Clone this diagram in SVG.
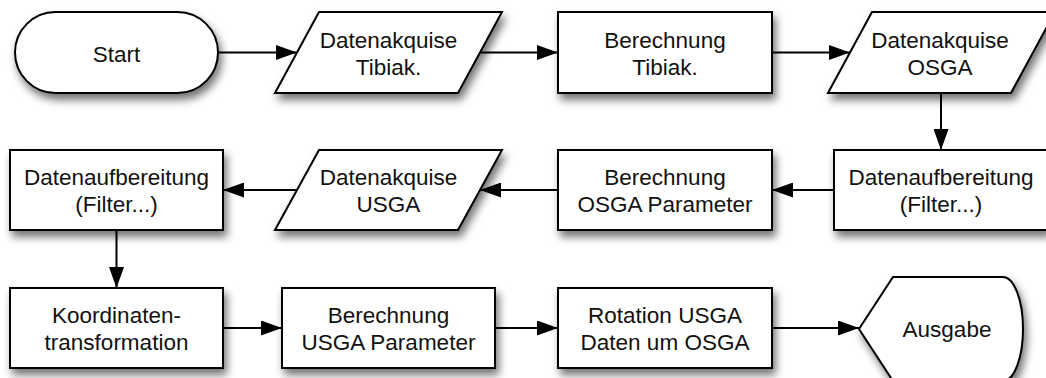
<svg xmlns="http://www.w3.org/2000/svg" width="1046" height="378" viewBox="0 0 1046 378">
<defs>
<filter id="sh" x="-20%" y="-20%" width="140%" height="170%">
<feDropShadow dx="3" dy="6" stdDeviation="4" flood-color="#000" flood-opacity="0.55"/>
</filter>
<marker id="ah" markerUnits="userSpaceOnUse" markerWidth="21" markerHeight="15" refX="21" refY="7.5" orient="auto">
<path d="M0,0 L21,7.5 L0,15 Z" fill="#000"/>
</marker>
</defs>
<style>
.s{fill:#fff;stroke:#000;stroke-width:2;filter:url(#sh)}
.t{font-family:"Liberation Sans",Arial,sans-serif;font-size:22.5px;fill:#111;text-anchor:middle}
.c{stroke:#000;stroke-width:2;fill:none;marker-end:url(#ah)}
</style>
<rect width="1046" height="378" fill="#fff"/>
<g id="connectors">
<line class="c" x1="218" y1="52.5" x2="297" y2="52.5"/>
<line class="c" x1="480" y1="52.5" x2="558" y2="52.5"/>
<line class="c" x1="772" y1="52.5" x2="850" y2="52.5"/>
<line class="c" x1="941" y1="93" x2="941" y2="150"/>
<line class="c" x1="834" y1="190" x2="772" y2="190"/>
<line class="c" x1="558" y1="190" x2="480" y2="190"/>
<line class="c" x1="297" y1="190" x2="223" y2="190"/>
<line class="c" x1="116.5" y1="230" x2="116.5" y2="288"/>
<line class="c" x1="223" y1="328" x2="282" y2="328"/>
<line class="c" x1="495" y1="328" x2="558" y2="328"/>
<line class="c" x1="772" y1="328" x2="859" y2="328"/>
</g>
<g id="start">
<rect class="s" x="15" y="12" width="203" height="81" rx="40.5" ry="40.5"/>
<text class="t" x="116.5" y="62">Start</text>
</g>
<g id="akq-tibiak">
<path class="s" d="M319,12 L502,12 L458,93 L275,93 Z"/>
<text class="t" x="388.5" y="47.5">Datenakquise</text>
<text class="t" x="388.5" y="74.5">Tibiak.</text>
</g>
<g id="ber-tibiak">
<rect class="s" x="558" y="12" width="214" height="81"/>
<text class="t" x="665" y="47.5">Berechnung</text>
<text class="t" x="665" y="74.5">Tibiak.</text>
</g>
<g id="akq-osga">
<path class="s" d="M872,12 L1055,12 L1011,93 L828,93 Z"/>
<text class="t" x="940" y="47.5">Datenakquise</text>
<text class="t" x="940" y="74.5">OSGA</text>
</g>
<g id="aufb-r">
<rect class="s" x="834" y="150" width="214" height="80"/>
<text class="t" x="941" y="185">Datenaufbereitung</text>
<text class="t" x="941" y="212">(Filter...)</text>
</g>
<g id="ber-osga">
<rect class="s" x="558" y="150" width="214" height="80"/>
<text class="t" x="665" y="185">Berechnung</text>
<text class="t" x="665" y="212">OSGA Parameter</text>
</g>
<g id="akq-usga">
<path class="s" d="M319,150 L502,150 L458,230 L275,230 Z"/>
<text class="t" x="388.5" y="185">Datenakquise</text>
<text class="t" x="388.5" y="212">USGA</text>
</g>
<g id="aufb-l">
<rect class="s" x="10" y="150" width="213" height="80"/>
<text class="t" x="116.5" y="185">Datenaufbereitung</text>
<text class="t" x="116.5" y="212">(Filter...)</text>
</g>
<g id="koord">
<rect class="s" x="10" y="288" width="213" height="80"/>
<text class="t" x="116.5" y="323">Koordinaten-</text>
<text class="t" x="116.5" y="350">transformation</text>
</g>
<g id="ber-usga">
<rect class="s" x="282" y="288" width="213" height="80"/>
<text class="t" x="388.5" y="323">Berechnung</text>
<text class="t" x="388.5" y="350">USGA Parameter</text>
</g>
<g id="rotation">
<rect class="s" x="558" y="288" width="214" height="80"/>
<text class="t" x="665" y="323">Rotation USGA</text>
<text class="t" x="665" y="350">Daten um OSGA</text>
</g>
<g id="ausgabe">
<path class="s" d="M859,329 L893,277 L1003,277 A20,52 0 0 1 1003,381 L893,381 Z"/>
<text class="t" x="947" y="337">Ausgabe</text>
</g>
</svg>
